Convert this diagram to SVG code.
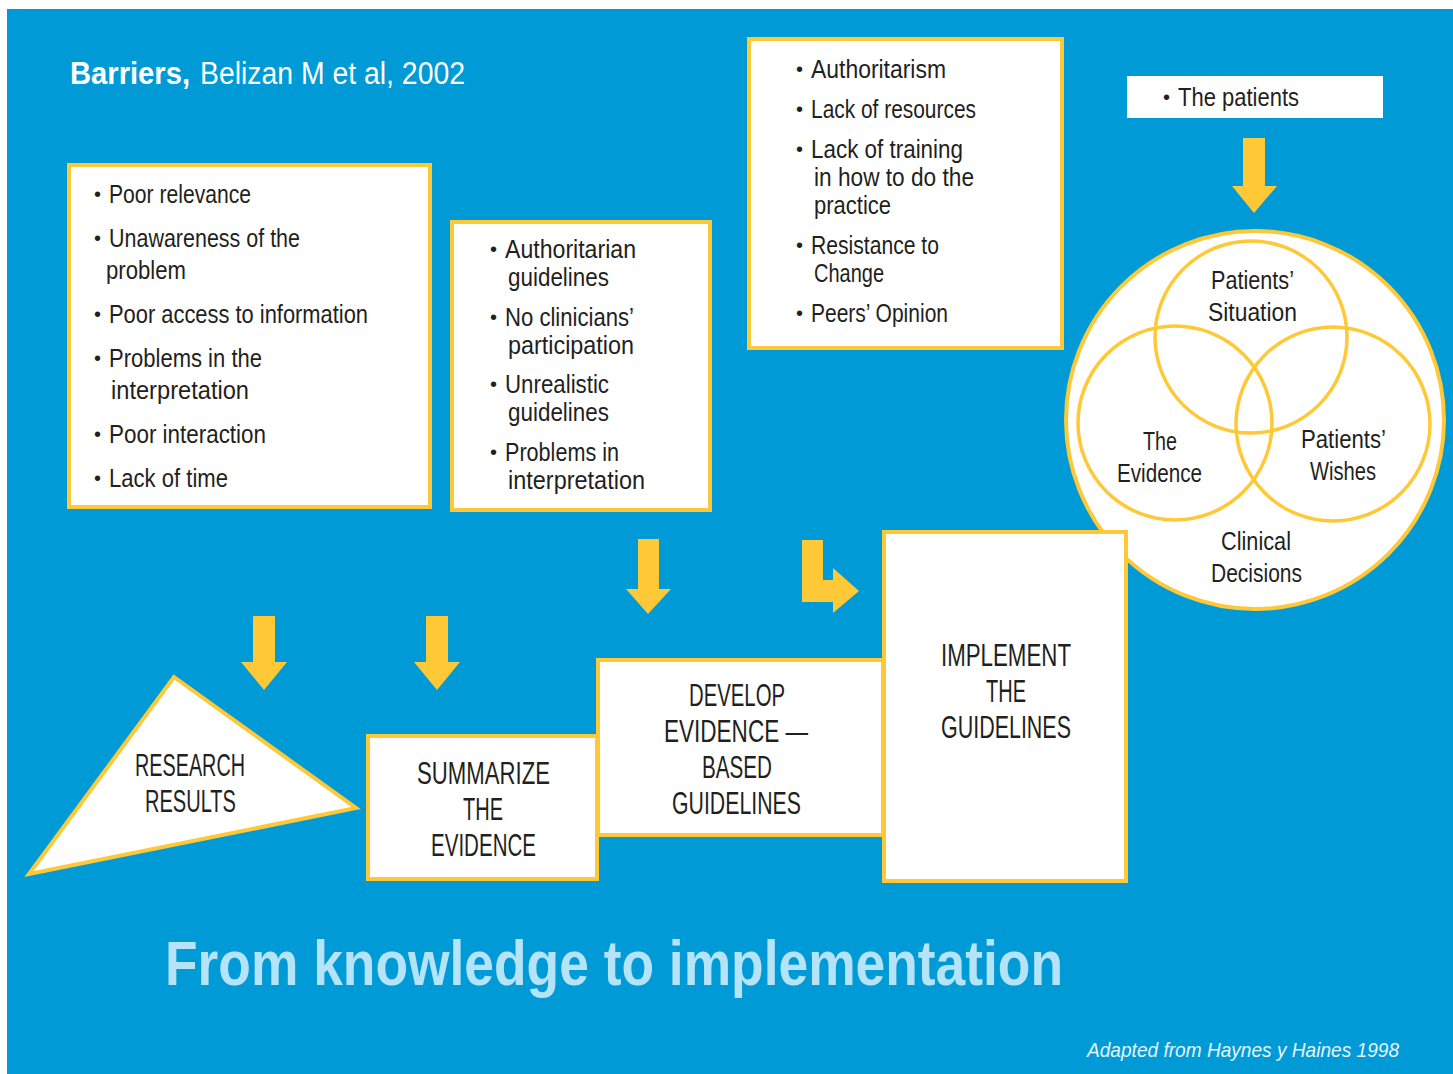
<svg xmlns="http://www.w3.org/2000/svg" width="1453" height="1074" viewBox="0 0 1453 1074">
<style>
.t{font-family:"Liberation Sans",Arial,sans-serif;fill:#231f20;font-size:26px}
.b{font-family:"Liberation Sans",Arial,sans-serif;fill:#231f20;font-size:20px}
.c{text-anchor:middle}
.cap{font-size:31px}
.box{fill:#fff;stroke:#ffc836;stroke-width:4}
.arr{fill:#ffc836}
</style>
<rect x="0" y="0" width="1453" height="1074" fill="#fff"/>
<rect x="7" y="9" width="1446" height="1065" fill="#009ad7"/>
<text x="70" y="84" class="t" style="fill:#fff;font-size:31px;font-weight:bold" textLength="120" lengthAdjust="spacingAndGlyphs">Barriers,</text>
<text x="200" y="84" class="t" style="fill:#fff;font-size:31px" textLength="265" lengthAdjust="spacingAndGlyphs">Belizan M et al, 2002</text>

<g id="barriers1">
<rect class="box" x="69" y="165" width="361" height="342"/>
<text class="b" x="94" y="201">•</text>
<text class="t" x="109" y="203" textLength="142" lengthAdjust="spacingAndGlyphs">Poor relevance</text>
<text class="b" x="94" y="245">•</text>
<text class="t" x="109" y="247" textLength="191" lengthAdjust="spacingAndGlyphs">Unawareness of the</text>
<text class="t" x="106" y="279" textLength="80" lengthAdjust="spacingAndGlyphs">problem</text>
<text class="b" x="94" y="321">•</text>
<text class="t" x="109" y="323" textLength="259" lengthAdjust="spacingAndGlyphs">Poor access to information</text>
<text class="b" x="94" y="365">•</text>
<text class="t" x="109" y="367" textLength="153" lengthAdjust="spacingAndGlyphs">Problems in the</text>
<text class="t" x="111" y="399" textLength="138" lengthAdjust="spacingAndGlyphs">interpretation</text>
<text class="b" x="94" y="441">•</text>
<text class="t" x="109" y="443" textLength="157" lengthAdjust="spacingAndGlyphs">Poor interaction</text>
<text class="b" x="94" y="485">•</text>
<text class="t" x="109" y="487" textLength="119" lengthAdjust="spacingAndGlyphs">Lack of time</text>
</g>

<g id="barriers2">
<rect class="box" x="452" y="222" width="258" height="288"/>
<text class="b" x="490" y="256">•</text>
<text class="t" x="505" y="258" textLength="131" lengthAdjust="spacingAndGlyphs">Authoritarian</text>
<text class="t" x="508" y="286" textLength="101" lengthAdjust="spacingAndGlyphs">guidelines</text>
<text class="b" x="490" y="324">•</text>
<text class="t" x="505" y="326" textLength="129" lengthAdjust="spacingAndGlyphs">No clinicians’</text>
<text class="t" x="508" y="354" textLength="126" lengthAdjust="spacingAndGlyphs">participation</text>
<text class="b" x="490" y="391">•</text>
<text class="t" x="505" y="393" textLength="104" lengthAdjust="spacingAndGlyphs">Unrealistic</text>
<text class="t" x="508" y="421" textLength="101" lengthAdjust="spacingAndGlyphs">guidelines</text>
<text class="b" x="490" y="459">•</text>
<text class="t" x="505" y="461" textLength="114" lengthAdjust="spacingAndGlyphs">Problems in</text>
<text class="t" x="508" y="489" textLength="137" lengthAdjust="spacingAndGlyphs">interpretation</text>
</g>

<g id="barriers3">
<rect class="box" x="749" y="39" width="313" height="309"/>
<text class="b" x="796" y="76">•</text>
<text class="t" x="811" y="78" textLength="135" lengthAdjust="spacingAndGlyphs">Authoritarism</text>
<text class="b" x="796" y="116">•</text>
<text class="t" x="811" y="118" textLength="165" lengthAdjust="spacingAndGlyphs">Lack of resources</text>
<text class="b" x="796" y="156">•</text>
<text class="t" x="811" y="158" textLength="152" lengthAdjust="spacingAndGlyphs">Lack of training</text>
<text class="t" x="814" y="186" textLength="160" lengthAdjust="spacingAndGlyphs">in how to do the</text>
<text class="t" x="814" y="214" textLength="77" lengthAdjust="spacingAndGlyphs">practice</text>
<text class="b" x="796" y="252">•</text>
<text class="t" x="811" y="254" textLength="128" lengthAdjust="spacingAndGlyphs">Resistance to</text>
<text class="t" x="814" y="282" textLength="70" lengthAdjust="spacingAndGlyphs">Change</text>
<text class="b" x="796" y="320">•</text>
<text class="t" x="811" y="322" textLength="137" lengthAdjust="spacingAndGlyphs">Peers’ Opinion</text>
</g>

<g id="patients">
<rect x="1127" y="76" width="256" height="42" fill="#fff"/>
<text class="b" x="1163" y="104">•</text>
<text class="t" x="1178" y="106" textLength="121" lengthAdjust="spacingAndGlyphs">The patients</text>
</g>

<g id="venn">
<circle cx="1255" cy="420" r="189" fill="#fff" stroke="#ffc836" stroke-width="4"/>
<g fill="none" stroke="#ffc836" stroke-width="3.5">
<circle cx="1251" cy="337" r="96"/>
<circle cx="1175" cy="423" r="97"/>
<circle cx="1333" cy="424" r="97"/>
</g>
<text class="t" x="1211" y="289" textLength="83" lengthAdjust="spacingAndGlyphs">Patients’</text>
<text class="t" x="1208" y="321" textLength="89" lengthAdjust="spacingAndGlyphs">Situation</text>
<text class="t" x="1143" y="450" textLength="34" lengthAdjust="spacingAndGlyphs">The</text>
<text class="t" x="1117" y="482" textLength="85" lengthAdjust="spacingAndGlyphs">Evidence</text>
<text class="t" x="1301" y="448" textLength="85" lengthAdjust="spacingAndGlyphs">Patients’</text>
<text class="t" x="1310" y="480" textLength="66" lengthAdjust="spacingAndGlyphs">Wishes</text>
<text class="t" x="1221" y="550" textLength="70" lengthAdjust="spacingAndGlyphs">Clinical</text>
<text class="t" x="1211" y="582" textLength="91" lengthAdjust="spacingAndGlyphs">Decisions</text>
</g>

<g id="research">
<polygon class="box" points="174,677 356,808 29,874"/>
<text class="t cap" x="135" y="776" textLength="110" lengthAdjust="spacingAndGlyphs">RESEARCH</text>
<text class="t cap" x="145" y="812" textLength="91" lengthAdjust="spacingAndGlyphs">RESULTS</text>
</g>

<g id="summarize">
<rect class="box" x="368" y="736" width="229" height="143"/>
<text class="t cap" x="417" y="784" textLength="133" lengthAdjust="spacingAndGlyphs">SUMMARIZE</text>
<text class="t cap" x="463" y="820" textLength="40" lengthAdjust="spacingAndGlyphs">THE</text>
<text class="t cap" x="431" y="856" textLength="105" lengthAdjust="spacingAndGlyphs">EVIDENCE</text>
</g>

<g id="develop">
<rect class="box" x="598" y="660" width="285" height="175"/>
<text class="t cap" x="689" y="706" textLength="96" lengthAdjust="spacingAndGlyphs">DEVELOP</text>
<text class="t cap" x="664" y="742" textLength="144" lengthAdjust="spacingAndGlyphs">EVIDENCE —</text>
<text class="t cap" x="702" y="778" textLength="70" lengthAdjust="spacingAndGlyphs">BASED</text>
<text class="t cap" x="672" y="814" textLength="129" lengthAdjust="spacingAndGlyphs">GUIDELINES</text>
</g>

<g id="implement">
<rect class="box" x="884" y="532" width="242" height="349"/>
<text class="t cap" x="941" y="666" textLength="130" lengthAdjust="spacingAndGlyphs">IMPLEMENT</text>
<text class="t cap" x="986" y="702" textLength="40" lengthAdjust="spacingAndGlyphs">THE</text>
<text class="t cap" x="941" y="738" textLength="130" lengthAdjust="spacingAndGlyphs">GUIDELINES</text>
</g>

<g id="connectors">
<polygon class="arr" points="253,616 275,616 275,662 287,662 264,690 241,662 253,662"/>
<polygon class="arr" points="426,616 448,616 448,662 460,662 437,690 414,662 426,662"/>
<polygon class="arr" points="638,539 659,539 659,589 671,589 648,614 626,589 638,589"/>
<polygon class="arr" points="802,540 823,540 823,580 833,580 833,568 859,591 833,613 833,602 802,602"/>
<polygon class="arr" points="1243,138 1265,138 1265,186 1277,186 1254,213 1232,186 1243,186"/>
</g>

<text x="165" y="985" textLength="898" lengthAdjust="spacingAndGlyphs" style="font-family:'Liberation Sans',Arial,sans-serif;font-weight:bold;font-size:63px;fill:#b5e4f9">From knowledge to implementation</text>
<text x="1087" y="1057" textLength="312" lengthAdjust="spacingAndGlyphs" style="font-family:'Liberation Sans',Arial,sans-serif;font-style:italic;font-size:21px;fill:#e6f6fd">Adapted from Haynes y Haines 1998</text>
</svg>
